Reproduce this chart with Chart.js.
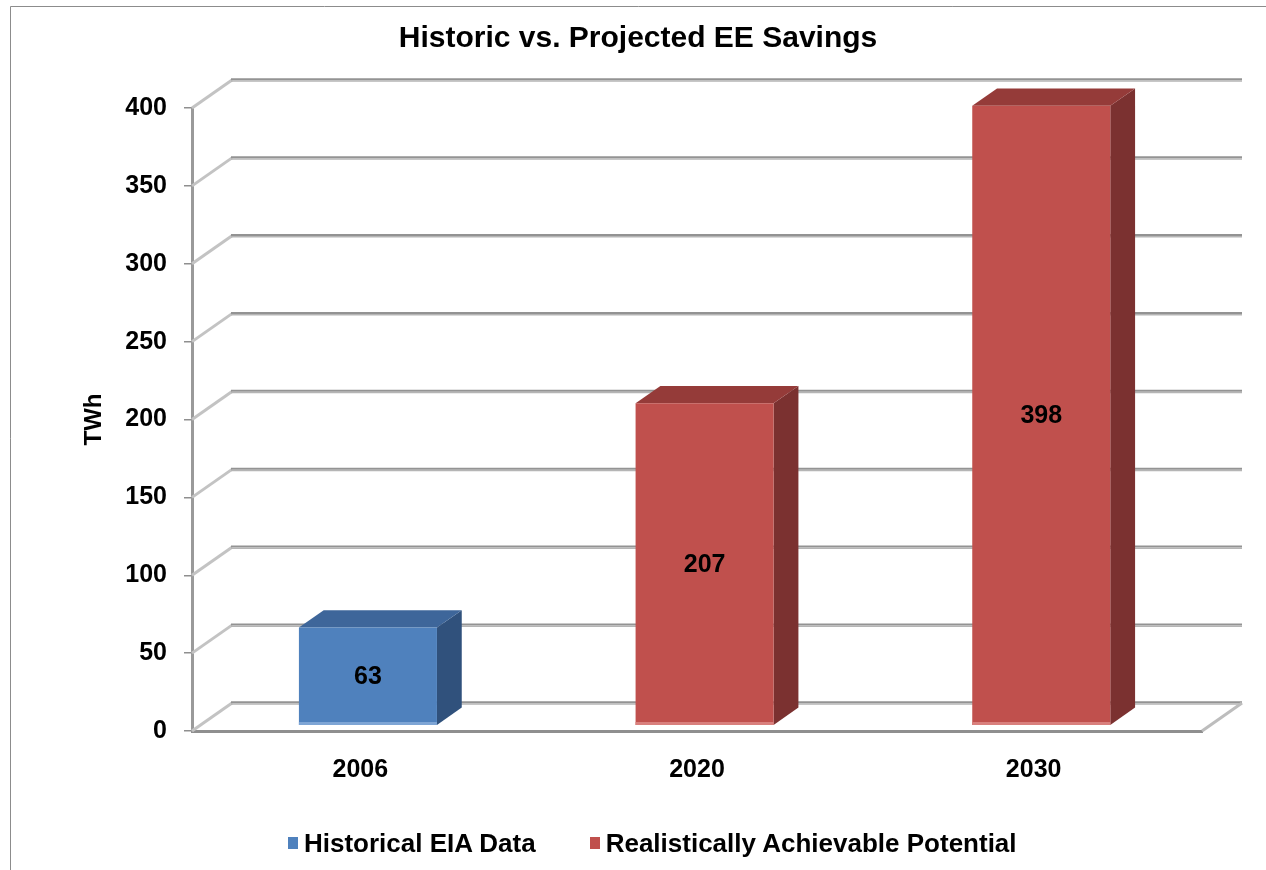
<!DOCTYPE html>
<html>
<head>
<meta charset="utf-8">
<title>Historic vs. Projected EE Savings</title>
<script src="https://cdn.jsdelivr.net/npm/chart.js@4.4.1/dist/chart.umd.min.js"></script>
<style>
    html, body { margin: 0; padding: 0; background: #fff; overflow: hidden; }
    #wrap { position: relative; width: 1266px; height: 870px; }
    #legend {
        position: absolute; left: 288px; top: 828px; height: 30px;
        display: flex; align-items: center;
        font: bold 26px "Liberation Sans", Arial, sans-serif; color: #000;
        line-height: 30px; white-space: nowrap;
    }
    #legend .box { display: inline-block; width: 10px; height: 12px; margin-right: 6px; }
    #legend .item { display: flex; align-items: center; }
    #legend .item + .item { margin-left: 54px; }
</style>
</head>
<body>
<div id="wrap">
    <canvas id="eeChart" width="1266" height="870"></canvas>
    <div id="legend"></div>
</div>
<script>
// Chart data
var categories = ['2006', '2020', '2030'];
var seriesNames = ['Historical EIA Data', 'Realistically Achievable Potential'];
var historical = [63, null, null];
var potential = [null, 207, 398];
var yTickValues = [0, 50, 100, 150, 200, 250, 300, 350, 400];

var FONT = '"Liberation Sans", Arial, sans-serif';

// face colours: front, top, side, bottom highlight
var blueFaces = ['#4f81bd', '#3e669a', '#30517c', '#7ea5d5'];
var redFaces = ['#c0504d', '#953b39', '#7b3130', '#d9807d'];

// depth of the 3D box (wall to front), in pixels
var DEPTH_X = 40;
var DEPTH_Y = -28;
// bars sit between these fractions of the depth
var BAR_FRONT = 0.19;
var BAR_BACK = 0.81;

function line(ctx, x1, y1, x2, y2, color, width) {
    ctx.beginPath();
    ctx.strokeStyle = color;
    ctx.lineWidth = width;
    ctx.moveTo(x1, y1);
    ctx.lineTo(x2, y2);
    ctx.stroke();
}

function poly(ctx, pts, color) {
    ctx.beginPath();
    ctx.moveTo(pts[0][0], pts[0][1]);
    for (var i = 1; i < pts.length; i++) ctx.lineTo(pts[i][0], pts[i][1]);
    ctx.closePath();
    ctx.fillStyle = color;
    ctx.fill();
}

var depth3d = {
    id: 'depth3d',
    beforeDraw: function(chart) {
        var ctx = chart.ctx;
        ctx.save();
        ctx.fillStyle = '#fff';
        ctx.fillRect(0, 0, chart.width, chart.height);
        // outer frame
        line(ctx, 10.5, chart.height, 10.5, 6.5, '#8c8c8c', 1);
        line(ctx, 10.5, 6.5, chart.width, 6.5, '#8c8c8c', 1);
        ctx.restore();
    },
    beforeDatasetsDraw: function(chart) {
        var ctx = chart.ctx;
        var area = chart.chartArea;
        var yScale = chart.scales.y;
        ctx.save();

        // side wall diagonals and back wall gridlines
        yScale.ticks.forEach(function(t) {
            var py = yScale.getPixelForValue(t.value);
            line(ctx, area.left, py, area.left + DEPTH_X, py + DEPTH_Y, '#c3c3c3', 3);
            line(ctx, area.left + DEPTH_X - 1, py + DEPTH_Y - 0.75, area.right + DEPTH_X, py + DEPTH_Y - 0.75, '#939393', 2);
            line(ctx, area.left + DEPTH_X - 1, py + DEPTH_Y + 1, area.right + DEPTH_X, py + DEPTH_Y + 1, '#b5b5b5', 1.5);
        });
        // right edge of the floor
        line(ctx, area.right, area.bottom, area.right + DEPTH_X, area.bottom + DEPTH_Y, '#bdbdbd', 3);

        // bars as boxes
        var fx = DEPTH_X * BAR_FRONT, fy = DEPTH_Y * BAR_FRONT;
        var dx = DEPTH_X * (BAR_BACK - BAR_FRONT), dy = DEPTH_Y * (BAR_BACK - BAR_FRONT);
        chart.data.datasets.forEach(function(ds, i) {
            var meta = chart.getDatasetMeta(i);
            var faces = ds.faces;
            meta.data.forEach(function(bar, j) {
                if (ds.data[j] == null) return;
                var p = bar.getProps(['x', 'y', 'base', 'width'], true);
                var x0 = p.x - p.width / 2 + fx, x1 = p.x + p.width / 2 + fx;
                var yt = p.y + fy, yb = p.base + fy;
                // side
                poly(ctx, [[x1, yt], [x1 + dx, yt + dy], [x1 + dx, yb + dy], [x1, yb]], faces[2]);
                // top
                poly(ctx, [[x0, yt], [x1, yt], [x1 + dx, yt + dy], [x0 + dx, yt + dy]], faces[1]);
                // front
                poly(ctx, [[x0, yt], [x1, yt], [x1, yb], [x0, yb]], faces[0]);
                poly(ctx, [[x0, yb - 3], [x1, yb - 3], [x1, yb], [x0, yb]], faces[3]);

                // value label
                ctx.fillStyle = '#000';
                ctx.font = 'bold 25px ' + FONT;
                ctx.textAlign = 'center';
                ctx.textBaseline = 'middle';
                ctx.fillText(String(ds.data[j]), (x0 + x1) / 2, (yt + yb) / 2 + 1);
            });
        });
        ctx.restore();
        return false;
    }
};

var ctx = document.getElementById('eeChart').getContext('2d');
var eeChart = new Chart(ctx, {
    type: 'bar',
    data: {
        labels: categories,
        datasets: [{
            label: seriesNames[0],
            data: historical,
            backgroundColor: blueFaces[0],
            faces: blueFaces,
            yAxisID: 'y'
        }, {
            label: seriesNames[1],
            data: potential,
            backgroundColor: redFaces[0],
            faces: redFaces,
            yAxisID: 'y'
        }]
    },
    options: {
        responsive: false,
        animation: false,
        events: [],
        grouped: false,
        categoryPercentage: 1,
        barPercentage: 0.41,
        layout: { padding: { left: 10, right: 0, top: 0, bottom: 0 } },
        plugins: {
            legend: { display: false },
            tooltip: { enabled: false },
            title: {
                display: true,
                text: 'Historic vs. Projected EE Savings',
                color: '#000',
                font: { family: FONT, size: 30, weight: 'bold', lineHeight: 1.2 },
                padding: { top: 21, bottom: 51 }
            }
        },
        scales: {
            x: {
                offset: true,
                z: 1,
                grid: { display: false, drawTicks: false },
                border: { display: true, color: '#8f8f8f', width: 3 },
                ticks: { color: '#000', font: { family: FONT, size: 25, weight: 'bold' }, padding: 24 },
                afterFit: function(s) { s.height = 139; }
            },
            y: {
                min: 0,
                max: 400,
                z: 1,
                afterBuildTicks: function(s) {
                    s.ticks = yTickValues.map(function(v) { return { value: v }; });
                },
                grid: { drawOnChartArea: false, drawTicks: true, tickLength: 8, color: '#8f8f8f', lineWidth: 1.5 },
                border: { display: true, color: '#9a9a9a', width: 3 },
                ticks: { color: '#000', font: { family: FONT, size: 25, weight: 'bold' }, padding: 17 },
                title: {
                    display: true,
                    text: 'TWh',
                    color: '#000',
                    font: { family: FONT, size: 24, weight: 'bold' },
                    padding: { top: 70, bottom: 0 }
                },
                afterFit: function(s) { s.width = 182; }
            },
            yRight: {
                position: 'right',
                grid: { display: false },
                border: { display: false },
                ticks: { display: false },
                afterFit: function(s) { s.width = 64; }
            }
        }
    },
    plugins: [depth3d]
});

// HTML legend
var legendEl = document.getElementById('legend');
eeChart.data.datasets.forEach(function(ds) {
    var item = document.createElement('span');
    item.className = 'item';
    item.innerHTML = '<span class="box" style="background:' + ds.backgroundColor + '"></span>' + ds.label;
    legendEl.appendChild(item);
});
</script>
</body>
</html>
